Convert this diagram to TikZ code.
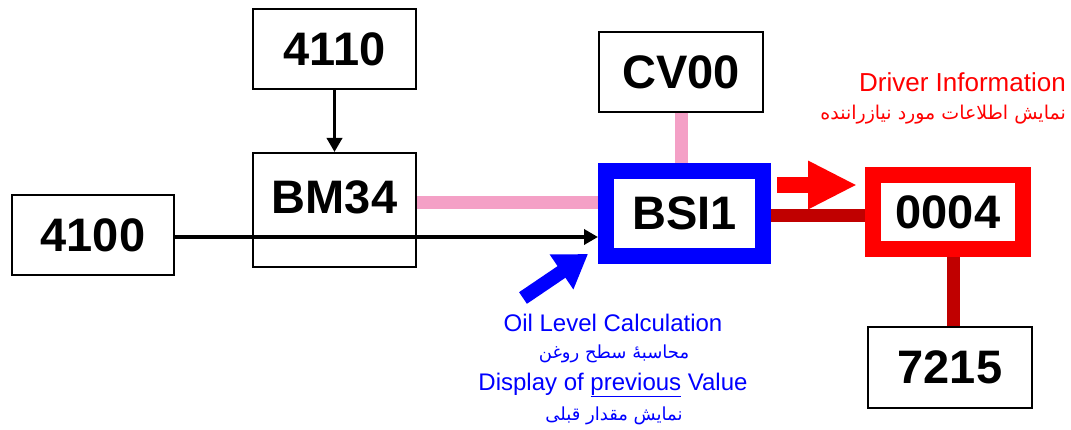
\documentclass[tikz,border=0pt]{standalone}
\usepackage{fontspec}
\setmainfont{Liberation Sans}
\newfontfamily\arabicfont[Script=Arabic]{DejaVu Sans}
\TeXXeTstate=1
\usetikzlibrary{arrows.meta}
\definecolor{pinkline}{HTML}{F4A0C6}
\definecolor{darkredline}{HTML}{C00000}
\tikzset{
  box/.style={draw=black, line width=2pt, inner sep=0pt, font=\fontsize{47}{47}\selectfont\bfseries},
  thickbox/.style={inner sep=0pt, font=\fontsize{47}{47}\selectfont\bfseries},
  boxlabel/.style={inner sep=0pt, font=\fontsize{47}{47}\selectfont\bfseries},
  blackarrow/.style={black, line width=3.5pt, -{Triangle[length=14pt,width=15pt]}},
  pinkconn/.style={pinkline, line width=13pt},
  darkconn/.style={darkredline, line width=13pt},
  bluetext/.style={blue, inner sep=0pt, font=\fontsize{24}{24}\selectfont},
  bluearabic/.style={blue, inner sep=0pt, font=\arabicfont\fontsize{18}{18}\selectfont},
  redtext/.style={red, inner sep=0pt, font=\fontsize{26}{26}\selectfont},
  redarabic/.style={red, inner sep=0pt, font=\arabicfont\fontsize{19}{19}\selectfont},
}
\begin{document}
\begin{tikzpicture}[x=1pt, y=-1pt]
\useasboundingbox (0,0) rectangle (1071,430);

% boxes
\node[box, minimum width=163pt, minimum height=80pt] (n4110) at (334.5,49) {4110};
\node[box, minimum width=163pt, minimum height=114pt] (bm34) at (334.5,210) {};
\node[boxlabel] (bm34lbl) at (334.5,197) {BM34};
\node[box, minimum width=162pt, minimum height=80pt] (n4100) at (93,235) {4100};
\node[box, minimum width=164pt, minimum height=80pt] (cv00) at (681,72) {CV00};
\node[thickbox, draw=blue, line width=16pt, minimum width=157pt, minimum height=85pt] (bsi1) at (684.5,213.5) {BSI1};
\node[thickbox, draw=red, line width=16pt, minimum width=150pt, minimum height=74pt] (n0004) at (948,212) {0004};
\node[box, minimum width=164pt, minimum height=81pt] (n7215) at (950,367.5) {7215};

% helper coordinates
\coordinate (pinkY) at (0,203);
\coordinate (darkY) at (0,216);
\coordinate (blackY) at (0,237);
\coordinate (darkX) at (953,0);

% connectors
\draw[blackarrow] (n4110.south) -- (bm34.north);
\draw[blackarrow] (n4100.east |- blackY) -- (bsi1.west |- blackY);
\draw[pinkconn] (bm34.east |- pinkY) -- (bsi1.west |- pinkY);
\draw[pinkconn] (cv00.south) -- (bsi1.north -| cv00.south);
\draw[darkconn] (bsi1.east |- darkY) -- (n0004.west |- darkY);
\draw[darkconn] (n0004.south -| darkX) -- (n7215.north -| darkX);

% block arrows
\coordinate (redA) at (777,185);
\coordinate (redB) at (857,185);
\draw[red, line width=16pt, -{Triangle[length=49pt,width=45pt]}] (redA) -- (redB);
\coordinate (blueA) at (523,298);
\coordinate (blueB) at (588,254);
\draw[blue, line width=14pt, -{Triangle[length=32pt,width=40pt]}] (blueA) -- (blueB);

% texts
\node[redtext, anchor=east] (drv) at (1066,82) {Driver Information};
\node[redarabic, anchor=east] (drvar) at (1066,115) {\beginR نمایش اطلاعات مورد نیازراننده\endR};
\node[bluetext] (oil) at (613,323) {Oil Level Calculation};
\node[bluearabic] (oilar) at (614,354) {\beginR محاسبهٔ سطح روغن\endR};
\node[bluetext] (disp) at (613,385) {Display of \underline{previous} Value};
\node[bluearabic] (disar) at (614,416) {\beginR نمایش مقدار قبلی\endR};
\end{tikzpicture}
\end{document}
